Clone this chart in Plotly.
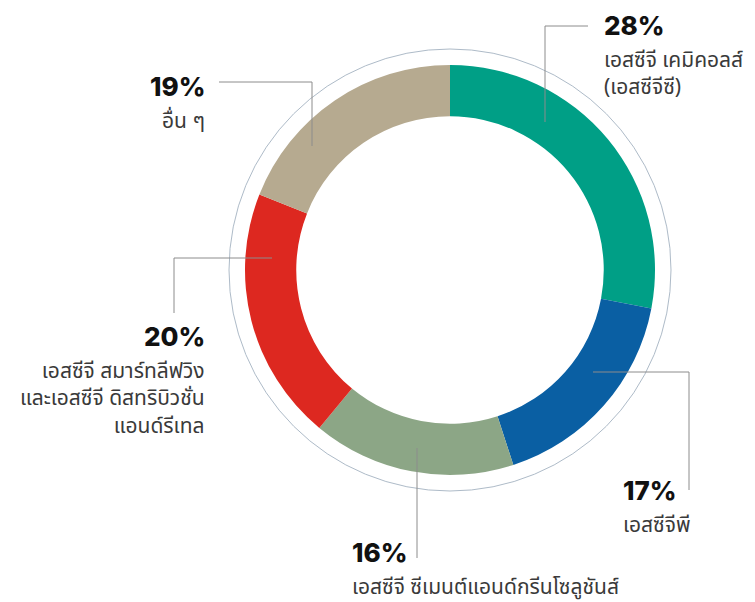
import plotly.graph_objects as go

W, H = 755, 602

categories = ["เอสซีจี เคมิคอลส์ (เอสซีจีซี)", "เอสซีจีพี", "เอสซีจี ซีเมนต์แอนด์กรีนโซลูชันส์",
              "เอสซีจี สมาร์ทลีฟวิง และเอสซีจี ดิสทริบิวชั่น แอนด์รีเทล", "อื่น ๆ"]
values = [28, 17, 16, 20, 19]
pct_labels = ["28%", "17%", "16%", "20%", "19%"]
name_lines = [
    ["เอสซีจี เคมิคอลส์", "(เอสซีจีซี)"],
    ["เอสซีจีพี"],
    ["เอสซีจี ซีเมนต์แอนด์กรีนโซลูชันส์"],
    ["เอสซีจี สมาร์ทลีฟวิง", "และเอสซีจี ดิสทริบิวชั่น", "แอนด์รีเทล"],
    ["อื่น ๆ"],
]
colors = ["#009F86", "#0A5FA3", "#8CA686", "#DD2820", "#B6AA90"]


def px(x):
    return x / W


def py(y):
    return 1 - y / H


cx, cy, R = 450, 270, 205

fig = go.Figure()
fig.add_trace(go.Pie(
    labels=categories, values=values, sort=False, direction="clockwise", rotation=0,
    hole=0.75, textinfo="none", hoverinfo="label+percent",
    marker=dict(colors=colors, line=dict(width=0)),
    domain=dict(x=[px(cx - R), px(cx + R)], y=[py(cy + R), py(cy - R)]),
    showlegend=False,
))

shapes = []
Ro = 221
shapes.append(dict(type="circle", xref="paper", yref="paper",
                   x0=px(cx - Ro), x1=px(cx + Ro), y0=py(cy + Ro), y1=py(cy - Ro),
                   line=dict(color="#AEBBC8", width=1)))

leaders = [
    [(545, 122), (545, 26), (588, 26)],
    [(593, 372), (689, 372), (689, 490)],
    [(417, 448), (417, 558)],
    [(272, 258), (174, 258), (174, 313)],
    [(312, 146), (312, 82), (219, 82)],
]
for pts in leaders:
    for (x0, y0), (x1, y1) in zip(pts[:-1], pts[1:]):
        shapes.append(dict(type="line", xref="paper", yref="paper",
                           x0=px(x0), y0=py(y0), x1=px(x1), y1=py(y1),
                           line=dict(color="#8C8C8C", width=1)))

label_pos = [
    (603, 27, "left"),
    (622, 492, "left"),
    (351, 554, "left"),
    (206, 338, "right"),
    (206, 88, "right"),
]
annotations = []
for (x, y, xa), pl, lines in zip(label_pos, pct_labels, name_lines):
    annotations.append(dict(x=px(x), y=py(y + 15), xref="paper", yref="paper", text=pl,
                            showarrow=False, xanchor=xa, yanchor="bottom", borderpad=0,
                            font=dict(family="Inter, Lato, sans-serif", size=26,
                                      color="#111111", weight=800)))
    annotations.append(dict(x=px(x), y=py(y + 17), xref="paper", yref="paper",
                            text="<br>".join(lines), align=xa,
                            showarrow=False, xanchor=xa, yanchor="top", borderpad=0,
                            font=dict(family="Noto Sans Thai, Noto Sans, sans-serif",
                                      size=21, color="#3A3A3A")))

fig.update_layout(
    width=W, height=H, margin=dict(l=0, r=0, t=0, b=0),
    paper_bgcolor="white", plot_bgcolor="white",
    shapes=shapes, annotations=annotations,
)

fig.write_html("out.html", config={"displayModeBar": False},
               post_script="document.body.style.margin='0';")
